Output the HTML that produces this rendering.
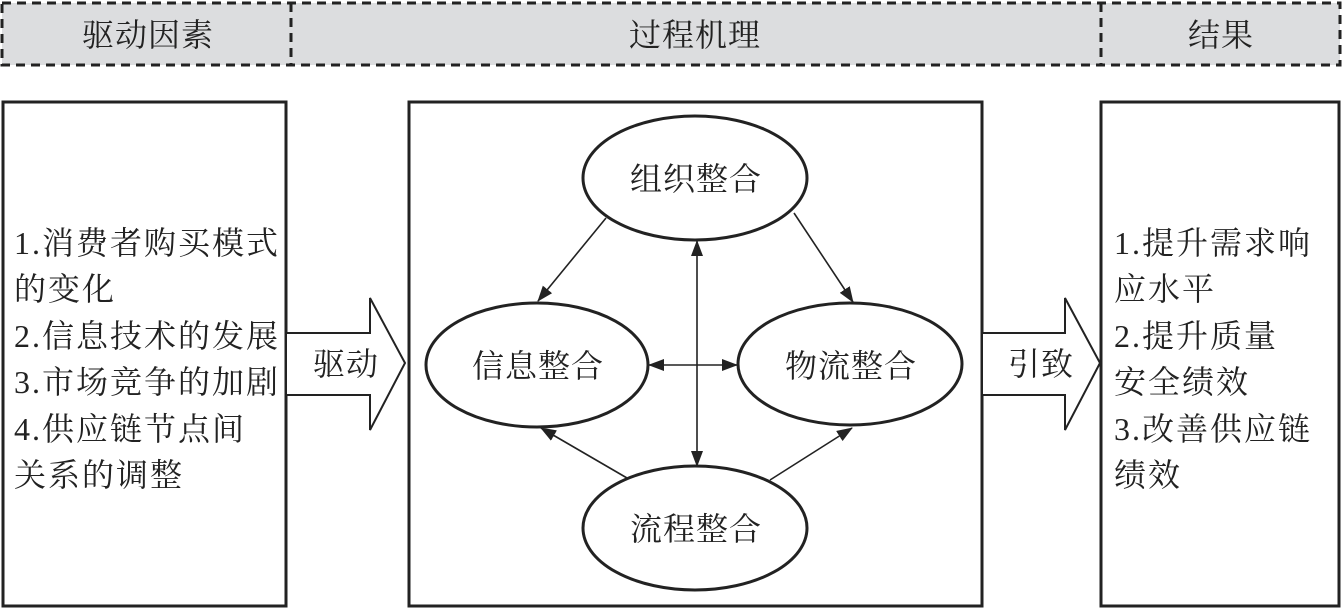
<!DOCTYPE html>
<html><head><meta charset="utf-8"><style>
body{margin:0;background:#fff;}
svg text{font-family:"Liberation Serif","Noto Serif CJK SC","Noto Sans CJK SC",serif;fill:#222;}
</style></head><body>
<svg width="1343" height="610" xmlns="http://www.w3.org/2000/svg">
<defs><marker id="a" markerWidth="16" markerHeight="12" refX="15" refY="6" orient="auto" markerUnits="userSpaceOnUse"><path d="M0,0 L16,6 L0,12 z" fill="#222"/></marker>
<marker id="b" markerWidth="16" markerHeight="12" refX="1" refY="6" orient="auto" markerUnits="userSpaceOnUse"><path d="M16,0 L0,6 L16,12 z" fill="#222"/></marker></defs>
<rect x="2" y="3" width="1338" height="62" fill="#dcdddf" stroke="#222" stroke-width="3" stroke-dasharray="9,6"/>
<line x1="291" y1="3" x2="291" y2="65" stroke="#222" stroke-width="3" stroke-dasharray="9,6"/>
<line x1="1101" y1="3" x2="1101" y2="65" stroke="#222" stroke-width="3" stroke-dasharray="9,6"/>
<g font-size="32" text-anchor="middle" letter-spacing="1">
<text x="148" y="46">驱动因素</text><text x="695" y="46">过程机理</text><text x="1221" y="46">结果</text></g>
<g fill="none" stroke="#222" stroke-width="3">
<rect x="3" y="102" width="283" height="504"/>
<rect x="409" y="102" width="573" height="504"/>
<rect x="1101" y="102" width="238" height="504"/>
<ellipse cx="695" cy="178" rx="112" ry="62"/>
<ellipse cx="537" cy="365" rx="111" ry="62"/>
<ellipse cx="850" cy="364" rx="112" ry="61"/>
<ellipse cx="695" cy="528" rx="112" ry="62"/>
</g>
<g fill="#fff" stroke="#222" stroke-width="2">
<path d="M287,333 H370 V298 L405,363 L370,430 V395 H287"/>
<path d="M983,333 H1065 V298 L1100,363 L1065,430 V395 H983"/>
</g>
<g stroke="#222" stroke-width="1.6" fill="none">
<line x1="606" y1="218" x2="538" y2="301" marker-end="url(#a)"/>
<line x1="794" y1="213" x2="853" y2="302" marker-end="url(#a)"/>
<line x1="627" y1="478" x2="541" y2="428" marker-end="url(#a)"/>
<line x1="770" y1="480" x2="852" y2="428" marker-end="url(#a)"/>
<line x1="697" y1="241" x2="697" y2="466" marker-start="url(#b)" marker-end="url(#a)"/>
<line x1="649" y1="365" x2="737" y2="365" marker-start="url(#b)" marker-end="url(#a)"/>
</g>
<g font-size="32" text-anchor="middle" letter-spacing="1">
<text x="696" y="190">组织整合</text><text x="538" y="377">信息整合</text>
<text x="851" y="377">物流整合</text><text x="696" y="540">流程整合</text>
<text x="346" y="375">驱动</text><text x="1041" y="375">引致</text></g>
<g font-size="32" letter-spacing="2">
<text x="14" y="254">1.消费者购买模式</text><text x="14" y="300">的变化</text>
<text x="14" y="347">2.信息技术的发展</text><text x="14" y="393">3.市场竞争的加剧</text>
<text x="14" y="440">4.供应链节点间</text><text x="14" y="486">关系的调整</text>
<text x="1114" y="254">1.提升需求响</text><text x="1114" y="300">应水平</text>
<text x="1114" y="347">2.提升质量</text><text x="1114" y="393">安全绩效</text>
<text x="1114" y="440">3.改善供应链</text><text x="1114" y="486">绩效</text>
</g>
</svg>
</body></html>
